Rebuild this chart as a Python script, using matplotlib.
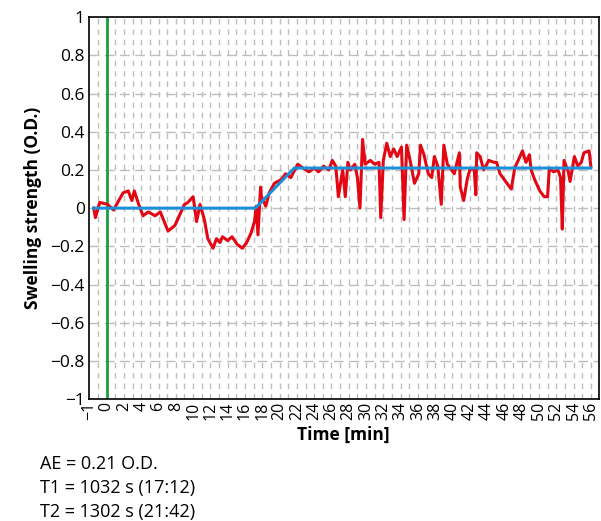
import matplotlib.pyplot as plt

# measured swelling curve (time in min, O.D.)
time_min = [-1.5, -1.3, -0.8, 0.1, 0.8, 1.4, 1.9, 2.5, 2.9, 3.2, 3.7, 4.2, 4.8, 5.6, 6.2,
            7.1, 7.9, 8.5, 9.0, 9.4, 10.0, 10.4, 10.8, 11.3, 11.7, 12.3, 12.7, 13.1, 13.4,
            14.0, 14.5, 15.1, 15.7, 16.2, 16.7, 17.1, 17.3, 17.5, 17.8, 17.9, 18.4, 18.8,
            19.4, 20.2, 20.7, 21.3, 22.1, 22.7, 23.4, 24.0, 24.5, 25.1, 25.7, 26.1, 26.5,
            26.8, 27.3, 27.6, 27.9, 28.2, 28.7, 29.0, 29.3, 29.6, 29.9, 30.5, 31.0, 31.5,
            31.7, 32.0, 32.4, 32.8, 33.2, 33.6, 34.1, 34.4, 34.7, 35.1, 35.6, 36.1, 36.3,
            36.7, 37.2, 37.6, 37.9, 38.3, 38.7, 39.0, 39.4, 39.9, 40.2, 40.8, 40.9, 41.3,
            41.7, 42.0, 42.5, 42.7, 42.8, 43.2, 43.6, 44.2, 44.8, 45.1, 45.5, 46.3, 46.8,
            47.2, 47.8, 48.1, 48.5, 48.9, 49.1, 49.5, 50.1, 50.6, 51.0, 51.2, 51.7, 52.2,
            52.5, 52.7, 52.9, 53.4, 53.6, 54.1, 54.5, 54.9, 55.2, 55.8, 56.0]
swelling = [0.0, -0.05, 0.03, 0.02, -0.01, 0.04, 0.08, 0.09, 0.04, 0.09, 0.02, -0.04, -0.02,
            -0.04, -0.02, -0.12, -0.09, -0.03, 0.02, 0.03, 0.06, -0.07, 0.02, -0.06, -0.16,
            -0.21, -0.16, -0.18, -0.15, -0.17, -0.15, -0.19, -0.21, -0.18, -0.13, -0.07,
            0.01, -0.14, 0.11, 0.06, 0.01, 0.08, 0.13, 0.15, 0.18, 0.16, 0.23, 0.21, 0.19,
            0.21, 0.19, 0.22, 0.20, 0.25, 0.22, 0.06, 0.20, 0.06, 0.24, 0.20, 0.23, 0.16,
            0.0, 0.36, 0.23, 0.25, 0.23, 0.24, -0.05, 0.25, 0.34, 0.27, 0.31, 0.27, 0.32,
            -0.06, 0.33, 0.25, 0.13, 0.18, 0.33, 0.28, 0.18, 0.16, 0.27, 0.22, 0.02, 0.33,
            0.23, 0.20, 0.18, 0.29, 0.11, 0.04, 0.15, 0.20, 0.21, 0.07, 0.29, 0.27, 0.20,
            0.25, 0.24, 0.24, 0.18, 0.13, 0.10, 0.21, 0.27, 0.30, 0.24, 0.28, 0.20, 0.15,
            0.09, 0.06, 0.06, 0.21, 0.19, 0.20, 0.16, -0.11, 0.25, 0.19, 0.14, 0.27, 0.22,
            0.24, 0.29, 0.30, 0.22]

# fitted model: flat, ramp from T1 to T2, plateau at AE
fit_time = [-1.5, 17.2, 21.7, 56.0]
fit_value = [0.0, 0.0, 0.21, 0.21]

xtick_pos = [-2] + list(range(0, 57, 2))
xtick_labels = ['\u22121'] + [str(v) for v in range(0, 57, 2)]
ytick_pos = [-1, -0.8, -0.6, -0.4, -0.2, 0, 0.2, 0.4, 0.6, 0.8, 1]
ytick_labels = ['\u22121', '\u22120.8', '\u22120.6', '\u22120.4', '\u22120.2', '0',
                '0.2', '0.4', '0.6', '0.8', '1']

summary = ['AE = 0.21 O.D.', 'T1 = 1032 s (17:12)', 'T2 = 1302 s (21:42)']

plt.rcParams['font.family'] = ['Open Sans', 'DejaVu Sans']

fig = plt.figure(figsize=(6.01, 5.21), dpi=100)
ax = fig.add_axes([0.148, 0.234, 0.848, 0.733])

# grid: vertical every minute, horizontal every 0.2
for xv in range(-1, 57):
    ax.axvline(xv, color='#bdbdbd', lw=1, ls=(0, (4, 3.5)), zorder=0)
for yv in ytick_pos[1:-1]:
    ax.axhline(yv, color='#bdbdbd', lw=1, ls=(0, (7, 4)), zorder=0)

ax.axvline(0, color='#16a03c', lw=2, zorder=2)
ax.plot(time_min, swelling, color='#e30613', lw=2.2, zorder=3)
ax.plot(fit_time, fit_value, color='#1b8fd8', lw=2.2, zorder=4)

ax.set_xlim(-2.05, 56.9)
ax.set_ylim(-1, 1)
ax.set_xticks(xtick_pos)
ax.set_xticklabels(xtick_labels, rotation=90, fontsize=11.5)
ax.set_yticks(ytick_pos)
ax.set_yticklabels(ytick_labels, fontsize=12.5)
ax.tick_params(axis='y', length=0, pad=3)
ax.tick_params(axis='x', length=0, pad=2)
for s in ax.spines.values():
    s.set_color('black')
    s.set_linewidth(1.2)

ax.set_xlabel('Time [min]', fontsize=12.5, fontweight='bold', labelpad=4)
ax.set_ylabel('Swelling strength (O.D.)', fontsize=12.5, fontweight='bold', labelpad=6)

for i, line in enumerate(summary):
    fig.text(40 / 601, 1 - (464 + 24 * i) / 521, line, fontsize=13, va='center', ha='left')

fig.savefig('out.png', dpi=100)
